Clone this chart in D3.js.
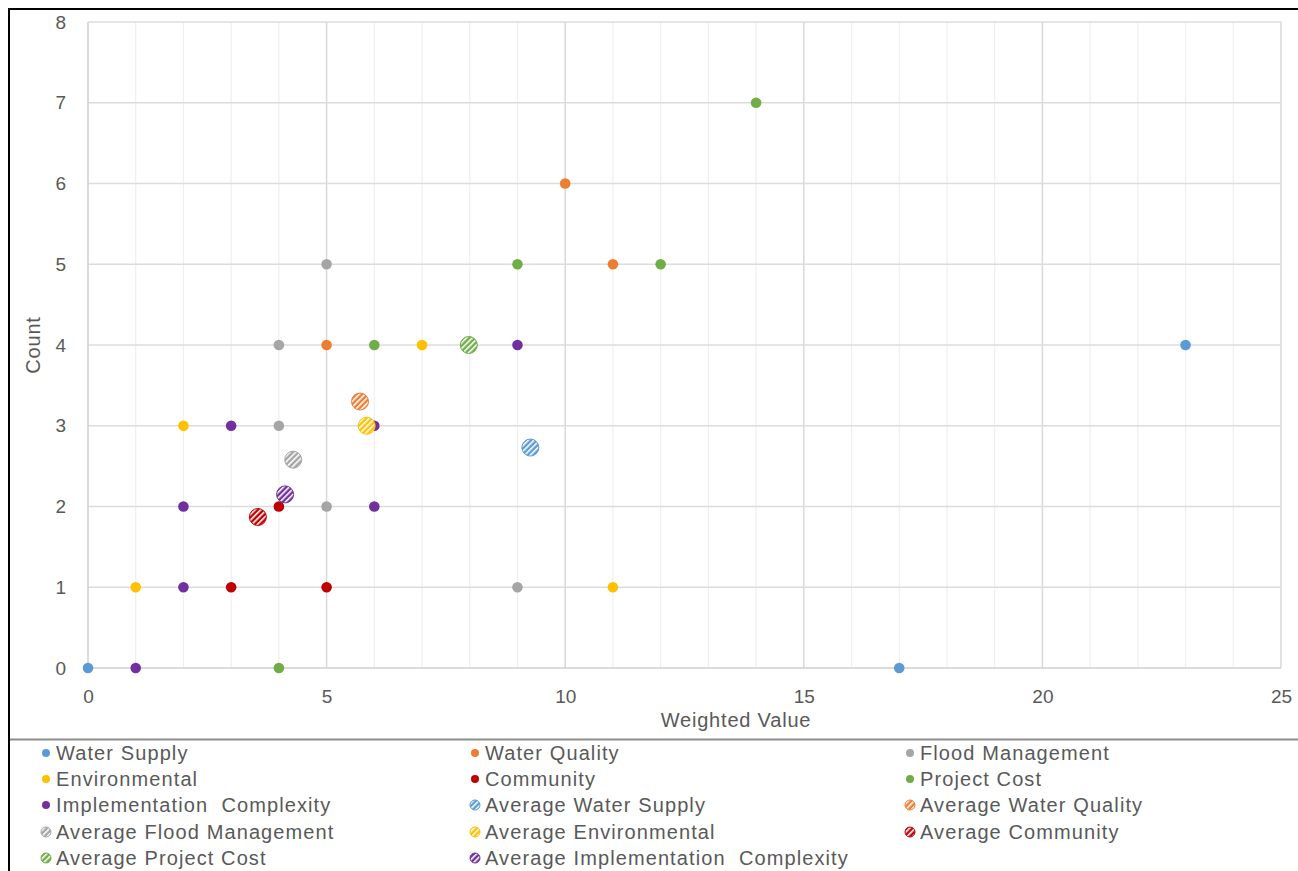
<!DOCTYPE html>
<html><head><meta charset="utf-8">
<script src="https://cdn.jsdelivr.net/npm/d3@7"></script>
<style>
html,body{margin:0;padding:0;background:#fff;}
text{font-family:"Liberation Sans",Arial,sans-serif;}
</style></head>
<body>
<script>
const seriesNames = ["Water Supply","Water Quality","Flood Management","Environmental","Community","Project Cost","Implementation  Complexity"];
const seriesColors = ["#5B9BD5","#ED7D31","#A5A5A5","#FFC000","#C00000","#70AD47","#7030A0"];
const waterSupply = [[0,0],[17,0],[23,4]];
const waterQuality = [[10,6],[11,5],[5,4]];
const floodManagement = [[5,5],[4,4],[4,3],[5,2],[9,1]];
const environmental = [[2,3],[1,1],[7,4],[11,1]];
const community = [[4,2],[3,1],[5,1]];
const projectCost = [[14,7],[9,5],[12,5],[6,4],[4,0]];
const implementation = [[1,0],[2,1],[2,2],[3,3],[6,3],[6,2],[9,4]];
const seriesData = [waterSupply,waterQuality,floodManagement,environmental,community,projectCost,implementation];
// averages [x,y] in the same series order
const averages = [[9.27,2.73],[5.70,3.30],[4.30,2.58],[5.84,3.00],[3.56,1.87],[7.98,4.00],[4.13,2.15]];
const avgNames = seriesNames.map(n => "Average " + n);
const xTicks = [0,5,10,15,20,25];
const yTicks = [0,1,2,3,4,5,6,7,8];

const W = 1298, H = 871;
const svg = d3.select("body").append("svg").attr("width",W).attr("height",H);
const defs = svg.append("defs");
seriesColors.forEach((c,i)=>{
  const p = defs.append("pattern").attr("id","pat"+i).attr("patternUnits","userSpaceOnUse")
    .attr("width",4).attr("height",4).attr("patternTransform","rotate(45)");
  p.append("rect").attr("width",4).attr("height",4).attr("fill",c);
  p.append("rect").attr("x",0).attr("width",1.6).attr("height",4).attr("fill","#fff");
});

// outer frame
svg.append("line").attr("x1",8).attr("x2",W).attr("y1",9).attr("y2",9).attr("stroke","#000").attr("stroke-width",2);
svg.append("line").attr("x1",9).attr("x2",9).attr("y1",8).attr("y2",H).attr("stroke","#000").attr("stroke-width",2);
svg.append("line").attr("x1",10).attr("x2",W).attr("y1",739.5).attr("y2",739.5).attr("stroke","#8c8c8c").attr("stroke-width",2);

const x = d3.scaleLinear().domain([0,25]).range([88,1281]);
const y = d3.scaleLinear().domain([0,8]).range([668,22]);

const g = svg.append("g");
d3.range(1,26).forEach(v=>{
  const major = v%5===0;
  g.append("line").attr("x1",x(v)).attr("x2",x(v)).attr("y1",y(0)).attr("y2",y(8))
   .attr("stroke", major ? "#d9d9d9" : "#efefef").attr("stroke-width", major?1.5:1.2);
});
yTicks.forEach(v=>{
  if(v===0) return;
  g.append("line").attr("x1",x(0)).attr("x2",x(25)).attr("y1",y(v)).attr("y2",y(v))
   .attr("stroke","#dcdcdc").attr("stroke-width",1.5);
});
g.append("line").attr("x1",x(0)).attr("x2",x(25)).attr("y1",y(0)).attr("y2",y(0)).attr("stroke","#cfcfcf").attr("stroke-width",1.5);
g.append("line").attr("x1",x(0)).attr("x2",x(0)).attr("y1",y(0)).attr("y2",y(8)).attr("stroke","#cfcfcf").attr("stroke-width",1.5);

const xAxis = svg.append("g").attr("transform",`translate(0,${y(0)})`)
  .call(d3.axisBottom(x).tickValues(xTicks).tickSize(0).tickPadding(22));
const yAxis = svg.append("g").attr("transform",`translate(${x(0)},0)`)
  .call(d3.axisLeft(y).tickValues(yTicks).tickSize(0).tickPadding(22));
[xAxis,yAxis].forEach(a=>{
  a.select(".domain").remove();
  a.selectAll("text").attr("fill","#595959").style("font-size","19px").style("font-family","'Liberation Sans',Arial,sans-serif");
});

svg.append("text").attr("x",736).attr("y",727).attr("text-anchor","middle").attr("fill","#595959")
  .style("font-size","20px").style("letter-spacing","0.8px").text("Weighted Value");
svg.append("text").attr("transform","translate(40,345) rotate(-90)").attr("text-anchor","middle").attr("fill","#595959")
  .style("font-size","20px").style("letter-spacing","0.8px").text("Count");

seriesData.forEach((arr,i)=>{
  g.selectAll(null).data(arr).enter().append("circle")
   .attr("cx",d=>x(d[0])).attr("cy",d=>y(d[1])).attr("r",5.3).attr("fill",seriesColors[i]);
});
averages.forEach((d,i)=>{
  g.append("circle").attr("cx",x(d[0])).attr("cy",y(d[1])).attr("r",8.5)
   .attr("fill",`url(#pat${i})`).attr("stroke",seriesColors[i]).attr("stroke-width",1);
});

const legendItems = seriesNames.map((n,i)=>({name:n,color:seriesColors[i],avg:false,i}))
  .concat(avgNames.map((n,i)=>({name:n,color:seriesColors[i],avg:true,i})));
const colX = [46,475,910];
const rowY = [753,779,805,832,858];
const lg = svg.append("g");
legendItems.forEach((it,k)=>{
  const cx = colX[k%3], cy = rowY[Math.floor(k/3)];
  if(it.avg){
    lg.append("circle").attr("cx",cx).attr("cy",cy).attr("r",5).attr("fill",`url(#pat${it.i})`).attr("stroke",it.color).attr("stroke-width",1);
  } else {
    lg.append("circle").attr("cx",cx).attr("cy",cy).attr("r",4).attr("fill",it.color);
  }
  lg.append("text").attr("x",cx+10).attr("y",cy+7).attr("fill","#595959")
    .style("font-size","20px").style("letter-spacing","1.1px").style("white-space","pre").text(it.name);
});
</script>
</body></html>
